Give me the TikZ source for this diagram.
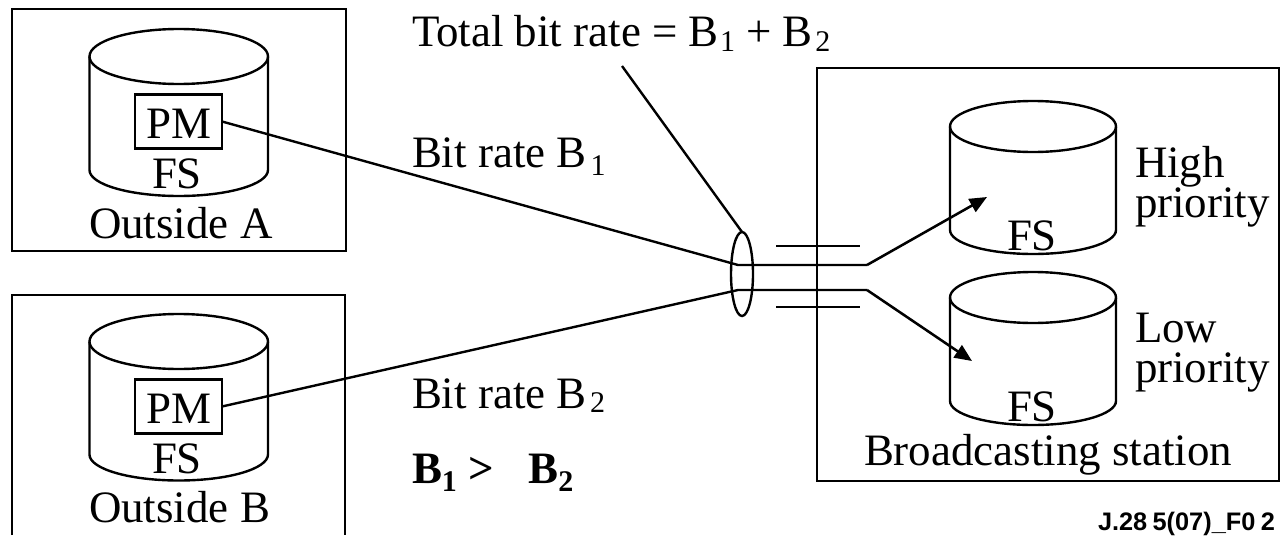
\documentclass[tikz,border=0pt]{standalone}
\usepackage{fontspec}
\setmainfont{Liberation Serif}
\newfontfamily\creditfont{Liberation Sans}
\usetikzlibrary{shapes.geometric, arrows.meta}
\newcommand{\lowdig}[2][-6pt]{\raisebox{#1}{\fontsize{22.5}{24}\selectfont #2}}
\tikzstyle{site}  = [rectangle, draw=black, line width=2pt, inner sep=0pt, outer sep=0pt]
\tikzstyle{lid}   = [ellipse, draw=black, line width=1.8pt, inner sep=0pt, outer sep=0pt,
                     minimum width=133.9pt, minimum height=41.25pt]
\tikzstyle{lid2}  = [lid, minimum width=124.5pt, minimum height=38.25pt]
\tikzstyle{drum}  = [draw=black, line width=1.8pt]
\tikzstyle{pmbox} = [rectangle, draw=black, line width=1.8pt, inner sep=0pt, outer sep=0pt,
                     minimum width=65.25pt, minimum height=40.5pt, text height=24.8pt, text depth=0pt]
\tikzstyle{label} = [anchor=base west, inner sep=0pt, outer sep=0pt]
\tikzstyle{line}  = [line width=1.8pt, line join=miter]
\tikzstyle{arrow} = [-{Triangle[length=13pt, width=11pt]}, line width=1.9pt]
\begin{document}
\begin{tikzpicture}[x=0.75pt, y=-0.75pt, every node/.style={font=\fontsize{33.7}{30}\selectfont}]
  \useasboundingbox (0,0) rectangle (1280,535);

  % Outside sites
  \node (siteA) [site, minimum width=250.5pt, minimum height=181.5pt] at (179,130) {};
  \coordinate (siteBsw) at (12,535);
  \coordinate (siteBse) at (345,535);
  \draw [line width=2pt] (siteBsw) |- (345,295) -- (siteBse);

  \node (lidA) [lid] at (178.75,56.5) {};
  \node (lidB) [lid] at (178.75,341.5) {};
  \draw [drum] (lidA.west) -- ++(0,113.5) arc[start angle=180, end angle=0, x radius=89.25, y radius=26] -- (lidA.east);
  \draw [drum] (lidB.west) -- ++(0,113) arc[start angle=180, end angle=0, x radius=89.25, y radius=26] -- (lidB.east);
  \node (pmA) [pmbox] at (178.5,121.5) {PM};
  \node (pmB) [pmbox] at (178.5,406.5) {PM};
  \node (fsA)  [label] at (152,188) {FS};
  \node (fsB)  [label] at (152,473) {FS};
  \node (outA) [label] at (89,238) {Outside A};
  \node (outB) [label] at (89,522) {Outside B};

  % Broadcasting station
  \node (station) [site, minimum width=346.5pt, minimum height=309.75pt] at (1048,274.5) {};
  \node (lidHigh) [lid2] at (1033,126.5) {};
  \node (lidLow)  [lid2] at (1033,297.5) {};
  \draw [drum] (lidHigh.west) -- ++(0,103.5) arc[start angle=180, end angle=0, x radius=83, y radius=24] -- (lidHigh.east);
  \draw [drum] (lidLow.west) -- ++(0,103.5) arc[start angle=180, end angle=0, x radius=83, y radius=24] -- (lidLow.east);
  \node (fsHigh) [label] at (1007,250) {FS};
  \node (fsLow)  [label] at (1007,421) {FS};
  \node (prioH)  [label, align=left] at (1135,217) {High\\priority};
  \node (prioL)  [label, align=left] at (1135,382) {Low\\priority};
  \node (bstxt)  [label] at (864,465) {Broadcasting station};

  % Rates
  \node (total) [label] at (412,46) {Total bit rate = B\kern1pt\lowdig[-4pt]{1} + B\kern2pt\lowdig[-4pt]{2}};
  \node (rate1) [label] at (412,167) {Bit rate B\kern3pt\lowdig{1}};
  \node (rate2) [label] at (412,408) {Bit rate B\kern2.5pt\lowdig[-3pt]{2}};
  \node (cmp)   [label] at (412,483) {\bfseries B\lowdig{1} >\kern26pt B\lowdig{2}};
  \node (credit) [label, font=\creditfont\bfseries\fontsize{19}{20}\selectfont] at (1098,530) {J.28\kern4pt 5(07)\_F0\kern4pt 2};

  % Bundle
  \node (bundle) [ellipse, draw=black, line width=1.8pt, inner sep=0pt, outer sep=0pt,
                  minimum width=16.5pt, minimum height=63pt] at (742,274) {};
  \coordinate (leader) at (622,66);
  \coordinate (joinA) at (738,265);
  \coordinate (joinB) at (738,290);
  \coordinate (bendA) at (867,265);
  \coordinate (bendB) at (867,290);
  \coordinate (tipA) at (987,197);
  \coordinate (tipB) at (972,361);
  \coordinate (stubAw) at (776,246);
  \coordinate (stubAe) at (860,246);
  \coordinate (stubBw) at (776,307);
  \coordinate (stubBe) at (860,307);

  \draw [line] (leader) -- (bundle.north);
  \draw [line] (pmA.east) -- (joinA) -- (bendA);
  \draw [line] (pmB.east) -- (joinB) -- (bendB);
  \draw [arrow] (bendA) -- (tipA);
  \draw [arrow] (bendB) -- (tipB);
  \draw [line, line width=2.2pt] (stubAw) -- (stubAe);
  \draw [line, line width=2.2pt] (stubBw) -- (stubBe);
\end{tikzpicture}
\end{document}
